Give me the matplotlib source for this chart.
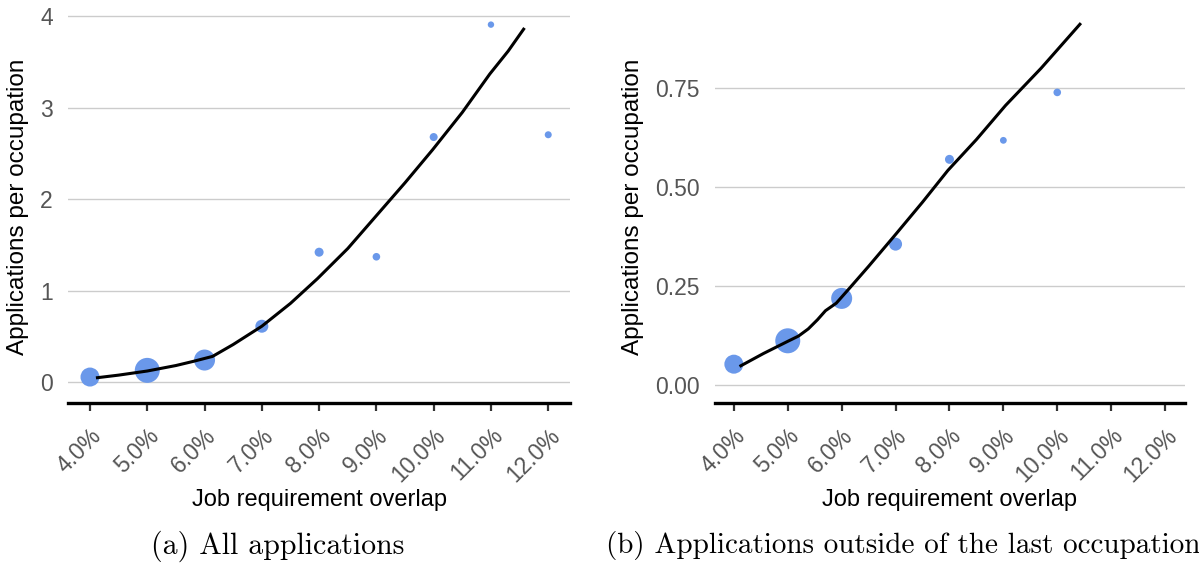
import matplotlib
matplotlib.use("Agg")

import matplotlib.pyplot as plt
from matplotlib.ticker import FixedLocator

# x positions (job requirement overlap, %)
overlap_pct = [4, 5, 6, 7, 8, 9, 10, 11, 12]
tick_labels = ["4.0%", "5.0%", "6.0%", "7.0%", "8.0%", "9.0%", "10.0%", "11.0%", "12.0%"]

# (a) all applications
apps_all = [0.054, 0.127, 0.24, 0.61, 1.42, 1.37, 2.68, 3.91, 2.705]
weight_all = [9.5, 12.5, 10.5, 6.5, 4.5, 3.8, 4, 3.2, 3.5]
fit_x_all = [4.13, 4.5, 5.0, 5.5, 5.8, 6.14, 6.5, 7.0, 7.5, 7.97, 8.5, 9.0, 9.5, 9.98, 10.5, 10.98, 11.3, 11.57]
fit_y_all = [0.047, 0.075, 0.12, 0.18, 0.225, 0.28, 0.41, 0.61, 0.86, 1.13, 1.46, 1.82, 2.18, 2.54, 2.95, 3.37, 3.62, 3.86]

# (b) applications outside of the last occupation
overlap_out = [4, 5, 6, 7, 8, 9, 10]
apps_out = [0.053, 0.112, 0.219, 0.356, 0.570, 0.618, 0.739]
weight_out = [9.5, 12.5, 10.5, 6.5, 4.5, 3.4, 3.8]
fit_x_out = [4.13, 4.55, 4.99, 5.2, 5.38, 5.55, 5.70, 5.9, 6.16, 6.5, 7.01, 7.5, 7.97, 8.5, 9.04, 9.7, 10.42]
fit_y_out = [0.049, 0.08, 0.110, 0.124, 0.142, 0.165, 0.188, 0.207, 0.247, 0.30, 0.382, 0.462, 0.542, 0.62, 0.706, 0.80, 0.911]

BLUE = "#6a98ea"
TICK_FONT = "Liberation Sans"

fig = plt.figure(figsize=(11.99, 5.72), dpi=100)
ax1 = fig.add_axes([68 / 1199, 1 - 403 / 572, 502 / 1199, 393 / 572])
ax2 = fig.add_axes([715 / 1199, 1 - 403 / 572, 470 / 1199, 393 / 572])


def style_axis(ax, yticks, ylabels, ylim, xlim):
    ax.set_xlim(*xlim)
    ax.set_ylim(*ylim)
    for s in ["top", "right", "left"]:
        ax.spines[s].set_visible(False)
    ax.spines["bottom"].set_linewidth(2.4)
    ax.spines["bottom"].set_color("black")
    ax.xaxis.set_major_locator(FixedLocator(overlap_pct))
    ax.set_xticklabels(tick_labels, rotation=45, ha="right", va="top",
                       rotation_mode="anchor", family=TICK_FONT, fontsize=16.5,
                       color="#555555")
    ax.tick_params(axis="x", length=6, width=1.6, color="#333333", pad=9)
    ax.set_yticks(yticks)
    ax.set_yticklabels(ylabels, family=TICK_FONT, fontsize=16.5, color="#555555")
    ax.tick_params(axis="y", length=0, pad=11)
    ax.grid(axis="y", color="#cccccc", linewidth=1.0)
    ax.set_axisbelow(True)
    ax.set_xlabel("Job requirement overlap", family=TICK_FONT, fontsize=17, labelpad=2)
    ax.set_ylabel("Applications per occupation", family=TICK_FONT, fontsize=17.5, labelpad=8)


def px_to_s(r):
    return (2 * r * 0.72) ** 2


ax1.scatter(overlap_pct, apps_all, s=[px_to_s(r) for r in weight_all], color=BLUE,
            linewidths=0, zorder=2)
ax1.plot(fit_x_all, fit_y_all, color="black", linewidth=2.2, zorder=3)
style_axis(ax1, [0, 1, 2, 3, 4], ["0", "1", "2", "3", "4"], (-0.23, 4.07), (3.616, 12.38))

ax2.scatter(overlap_out, apps_out, s=[px_to_s(r) for r in weight_out], color=BLUE,
            linewidths=0, zorder=2)
ax2.plot(fit_x_out, fit_y_out, color="black", linewidth=2.2, zorder=3)
style_axis(ax2, [0, 0.25, 0.5, 0.75], ["0.00", "0.25", "0.50", "0.75"], (-0.045, 0.947), (3.65, 12.37))

fig.text(278 / 1199, 1 - 546 / 572, "(a) All applications", family="cmr10", fontsize=21.5,
         ha="center", va="center")
fig.text(903 / 1199, 1 - 546 / 572, "(b) Applications outside of the last occupation",
         family="cmr10", fontsize=21, ha="center", va="center")

fig.savefig("out.png", dpi=100)
